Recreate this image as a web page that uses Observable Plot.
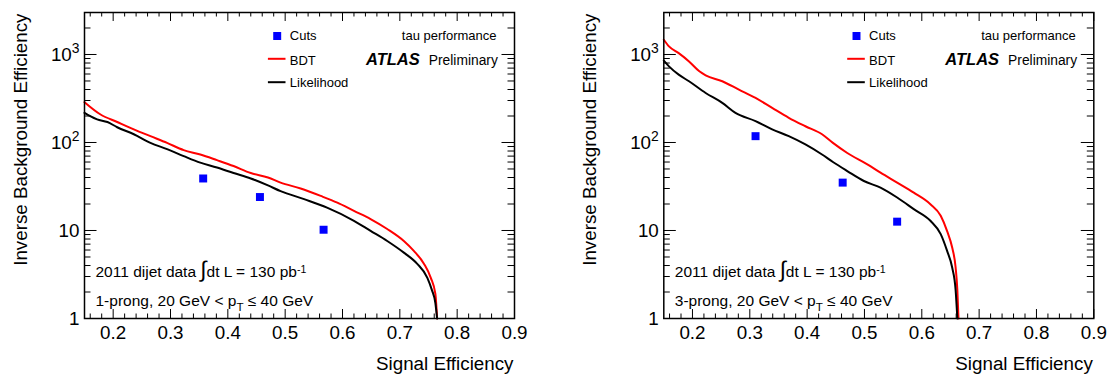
<!DOCTYPE html>
<html><head><meta charset="utf-8">
<script src="https://cdn.jsdelivr.net/npm/d3@7"></script>
<script src="https://cdn.jsdelivr.net/npm/@observablehq/plot@0.6"></script>
<style>
html,body{margin:0;padding:0;background:#fff;}
#wrap{display:flex;width:1110px;height:376px;overflow:hidden;}
#wrap svg{flex:none;display:block;}
</style></head><body><div id="wrap"></div>
<script>
const FONT = '"Liberation Sans", Arial, Helvetica, sans-serif';

// axis ticks and labels
const xTicks = [0.2, 0.3, 0.4, 0.5, 0.6, 0.7, 0.8, 0.9];
const yTicks = [1, 10, 100, 1000];
const yTickLabels = ["1", "10", "10^2", "10^3"];
const xTitle = "Signal Efficiency";
const yTitle = "Inverse Background Efficiency";
const seriesNames = ["Cuts", "BDT", "Likelihood"];

// Left panel: 1-prong
const p1BdtEff = [0.150,0.178,0.207,0.236,0.265,0.294,0.323,0.352,0.381,0.410,0.440,0.470,0.492,0.527,0.562,0.591,0.620,0.649,0.678,0.707,0.724,0.742,0.754,0.762,0.765];
const p1BdtVal = [287,208,171,141,118,99,82,73,63,54,45,40,35,30,24.7,20.7,16.7,13.5,10.4,7.6,5.9,4.2,2.9,1.9,1.0];
const p1LikEff = [0.150,0.160,0.172,0.190,0.207,0.236,0.265,0.294,0.323,0.352,0.381,0.410,0.440,0.470,0.492,0.533,0.573,0.620,0.649,0.678,0.707,0.730,0.748,0.756,0.762,0.765];
const p1LikVal = [217,199,183,171,149,124,99,84,70,59,52,45,39,32.5,28,22.7,18.2,12.9,9.9,7.6,5.6,4.2,2.9,2.1,1.5,1.0];
const p1CutsEff = [0.357, 0.456, 0.567];
const p1CutsVal = [39, 24, 10.2];
const p1Label = "1-prong, 20 GeV < p_T ≤ 40 GeV";

// Right panel: 3-prong
const p2BdtEff = [0.150,0.159,0.176,0.194,0.212,0.223,0.252,0.281,0.310,0.339,0.368,0.397,0.426,0.445,0.470,0.505,0.528,0.557,0.586,0.615,0.633,0.644,0.653,0.659,0.662,0.664];
const p2BdtVal = [1472,1236,1037,835,644,580,496,399,321,247,191,153,124,99,76,56.5,45.4,35,26.9,19.9,14.7,9.9,6.4,3.8,2.1,1.0];
const p2LikEff = [0.150,0.159,0.176,0.194,0.223,0.252,0.275,0.310,0.339,0.368,0.397,0.426,0.445,0.470,0.499,0.528,0.557,0.586,0.615,0.633,0.644,0.653,0.659,0.662];
const p2LikVal = [851,733,590,496,365,282,217,175,141,118,95,73,60,47.4,36.5,30.7,23.7,17.5,12.9,9.1,5.9,3.8,2.1,1.0];
const p2CutsEff = [0.310, 0.462, 0.557];
const p2CutsVal = [118, 35, 12.6];
const p2Label = "3-prong, 20 GeV < p_T ≤ 40 GeV";

const lumiLabel = "2011 dijet data ∫dt L = 130 pb^-1";
const perfLabel = "tau performance";

const minorX = d3.range(8, 45).filter(i => i % 5 !== 0).map(i => i * 0.02);
const minorY = [];
for (const d of [1, 10, 100, 1000]) for (let k = 2; k <= 9; k++) if (k * d < 3000) minorY.push(k * d);

const lineSym = {draw(ctx, size) { ctx.moveTo(-8.8, 0); ctx.lineTo(8.8, 0); }};

function panel({ml, mr, bdtEff, bdtVal, likEff, likVal, cutsEff, cutsVal, label, titleDx}) {
  const W = 555, H = 376, mt = 12, mb = 58;
  const fw = W - ml - mr, fh = H - mt - mb;
  const bdt = bdtEff.map((x, i) => ({x, y: bdtVal[i]}));
  const lik = likEff.map((x, i) => ({x, y: likVal[i]}));
  const cuts = cutsEff.map((x, i) => ({x, y: cutsVal[i]}));
  const txt = (s, o) => Plot.text([s], {text: d => d, lineAnchor: "bottom", fill: "#000", ...o});
  return Plot.plot({
    width: W, height: H,
    marginLeft: ml, marginRight: mr, marginTop: mt, marginBottom: mb,
    style: {fontFamily: FONT, background: "#fff", color: "#000", overflow: "visible"},
    x: {domain: [0.15, 0.9]},
    y: {type: "log", domain: [1, 3000]},
    marks: [
      Plot.line(bdt, {x: "x", y: "y", stroke: "#ff0000", strokeWidth: 2, curve: "monotone-x"}),
      Plot.line(lik, {x: "x", y: "y", stroke: "#000000", strokeWidth: 2, curve: "monotone-x"}),
      Plot.dot(cuts, {x: "x", y: "y", symbol: "square", r: 4.5, fill: "#0000ff", stroke: null}),
      Plot.tickX(xTicks, {x: d => d, insetTop: fh - 9, stroke: "#000"}),
      Plot.tickX(xTicks, {x: d => d, insetBottom: fh - 9, stroke: "#000"}),
      Plot.tickX(minorX, {x: d => d, insetTop: fh - 4.5, stroke: "#000"}),
      Plot.tickX(minorX, {x: d => d, insetBottom: fh - 4.5, stroke: "#000"}),
      Plot.tickY(yTicks, {y: d => d, insetRight: fw - 12.5, stroke: "#000"}),
      Plot.tickY(yTicks, {y: d => d, insetLeft: fw - 12.5, stroke: "#000"}),
      Plot.tickY(minorY, {y: d => d, insetRight: fw - 6.5, stroke: "#000"}),
      Plot.tickY(minorY, {y: d => d, insetLeft: fw - 6.5, stroke: "#000"}),
      Plot.frame({stroke: "#000", strokeWidth: 1.5}),
      Plot.axisX({ticks: xTicks, tickSize: 0, tickPadding: 7, fontSize: 18.8, tickFormat: d => d.toFixed(1), label: null}),
      Plot.axisY({ticks: yTicks, tickSize: 0, tickPadding: 5, fontSize: 18.8, tickFormat: d => yTickLabels[yTicks.indexOf(d)], label: null}),
      txt(xTitle, {frameAnchor: "bottom-right", textAnchor: "end", dx: -1, dy: 51, fontSize: 18.8}),
      txt(yTitle, {frameAnchor: "top-left", textAnchor: "end", rotate: -90, dx: titleDx, dy: 1, fontSize: 18.8}),
      // legend
      Plot.dot([seriesNames[0]], {frameAnchor: "top-left", dx: 192.7, dy: 23.5, symbol: "square", r: 4.5, fill: "#0000ff", stroke: null}),
      Plot.dot([seriesNames[1]], {frameAnchor: "top-left", dx: 192.2, dy: 46.3, symbol: lineSym, r: 5, fill: "none", stroke: "#ff0000", strokeWidth: 2}),
      Plot.dot([seriesNames[2]], {frameAnchor: "top-left", dx: 192.2, dy: 69.7, symbol: lineSym, r: 5, fill: "none", stroke: "#000", strokeWidth: 2}),
      txt(seriesNames[0], {frameAnchor: "top-left", textAnchor: "start", dx: 205.3, dy: 27.3, fontSize: 13}),
      txt(seriesNames[1], {frameAnchor: "top-left", textAnchor: "start", dx: 205.3, dy: 52, fontSize: 13}),
      txt(seriesNames[2], {frameAnchor: "top-left", textAnchor: "start", dx: 205.3, dy: 74.7, fontSize: 13}),
      txt(perfLabel, {frameAnchor: "top-right", textAnchor: "end", dx: -18, dy: 27.3, fontSize: 13}),
      txt("ATLAS", {frameAnchor: "top-right", textAnchor: "end", dx: -94.7, dy: 52, fontSize: 16.5, fontWeight: "bold", fontStyle: "italic"}),
      txt("Preliminary", {frameAnchor: "top-right", textAnchor: "end", dx: -16.7, dy: 52, fontSize: 13.8}),
      txt(lumiLabel, {frameAnchor: "bottom-left", textAnchor: "start", dx: 11, dy: -41.5, fontSize: 15.5}),
      txt(label, {frameAnchor: "bottom-left", textAnchor: "start", dx: 11, dy: -13, fontSize: 15.5})
    ]
  });
}

const NS = "http://www.w3.org/2000/svg";
function richify(el) {
  const s = el.textContent;
  if (!/[\^_∫]/.test(s)) return;
  const fs = parseFloat(getComputedStyle(el).fontSize) || 16;
  const parts = s.split(/(\^\S+|_\w|∫)/).filter(p => p !== "");
  el.textContent = "";
  let shift = 0;
  for (const p of parts) {
    const ts = document.createElementNS(NS, "tspan");
    let target = 0, size = null, t = p;
    if (p[0] === "^") { target = (fs > 17 ? -0.38 : -0.26) * fs; size = (fs > 17 ? 0.74 : 0.68) * fs; t = p.slice(1); }
    else if (p[0] === "_") { target = 0.33 * fs; size = 0.75 * fs; t = p.slice(1); }
    else if (p === "∫") { size = 1.45 * fs; }
    const d = target - shift;
    if (d !== 0) ts.setAttribute("dy", d.toFixed(2));
    shift = target;
    if (size) ts.setAttribute("font-size", size.toFixed(2));
    ts.textContent = t;
    el.appendChild(ts);
  }
}

const wrap = document.getElementById("wrap");
const a = panel({ml: 84, mr: 41, bdtEff: p1BdtEff, bdtVal: p1BdtVal, likEff: p1LikEff, likVal: p1LikVal, cutsEff: p1CutsEff, cutsVal: p1CutsVal, label: p1Label, titleDx: -57.5});
const b = panel({ml: 108.3, mr: 16.7, bdtEff: p2BdtEff, bdtVal: p2BdtVal, likEff: p2LikEff, likVal: p2LikVal, cutsEff: p2CutsEff, cutsVal: p2CutsVal, label: p2Label, titleDx: -67.8});
wrap.appendChild(a);
wrap.appendChild(b);
for (const svg of [a, b]) svg.querySelectorAll("text").forEach(richify);
</script>
</body></html>
